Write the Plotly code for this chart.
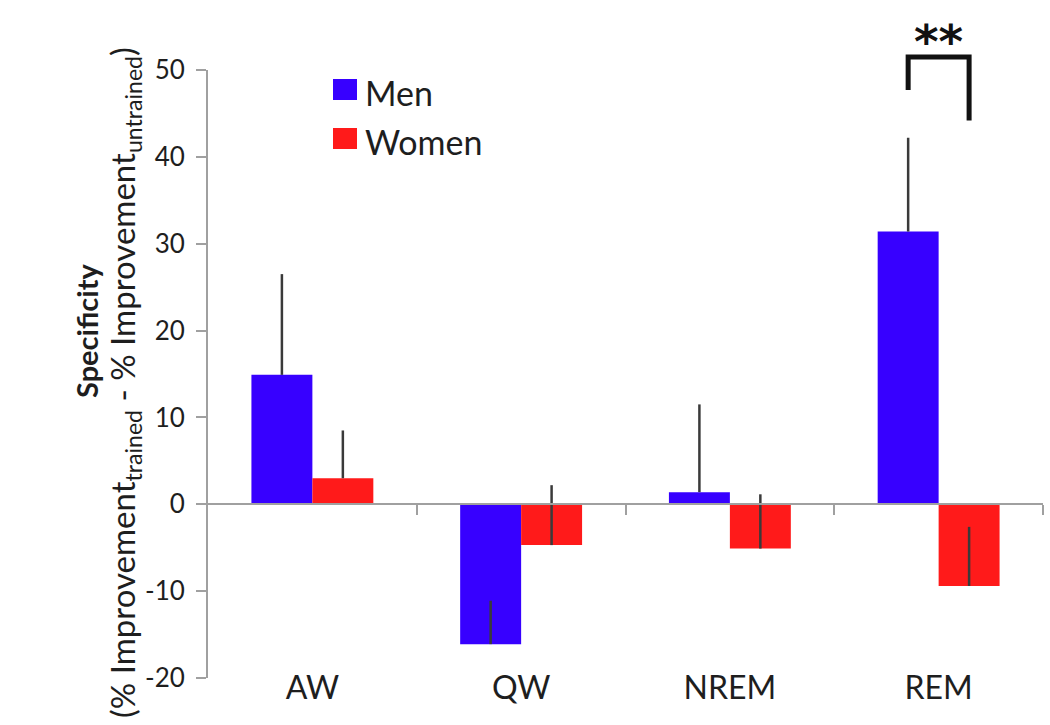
import plotly.graph_objects as go

# ---------------- data ----------------
categories = ["AW", "QW", "NREM", "REM"]
series_names = ["Men", "Women"]
men_values = [14.9, -16.1, 1.4, 31.4]
women_values = [3.0, -4.7, -5.1, -9.4]
men_err_plus = [11.6, 5.0, 10.1, 10.8]
women_err_plus = [5.5, 6.9, 6.25, 6.8]
y_ticks = [-20, -10, 0, 10, 20, 30, 40, 50]
y_tick_text = ["-20", "-10", "0", "10", "20", "30", "40", "50"]
y_range = [-20, 50]
sig_label = "**"
sig_category = "REM"
sig_bracket_y = [47.7, 51.5, 44.2]  # left end, top, right end
sig_label_y = 53.3
y_title_1 = "<b>Specificity</b>"
y_title_2 = "(% Improvement<sub>trained</sub> - % Improvement<sub>untrained</sub>)"

# ---------------- geometry / style ----------------
W, H = 1050, 725
L, R, T, B = 208, 7, 70, 47
PW, PH = W - L - R, H - T - B
MEN_COLOR = "#3700ff"
WOMEN_COLOR = "#ff1a1a"
AXIS_COLOR = "#a0a0a0"
TEXT_COLOR = "#1e1e1e"
FONT = "Lato"
BARGAP = 0.416
n = len(categories)
bar_frac = (1 - BARGAP) / 2  # width of one bar in category units


def px_x(px):
    return (px - L) / PW


def px_y(py):
    return (H - B - py) / PH


def data_y(v):
    return (v - y_range[0]) / (y_range[1] - y_range[0])


def cat_x(i, off=0.0):
    return (i + 0.5 + off) / n


fig = go.Figure()

for name, vals, err, col in [
    (series_names[0], men_values, men_err_plus, MEN_COLOR),
    (series_names[1], women_values, women_err_plus, WOMEN_COLOR),
]:
    fig.add_trace(go.Bar(
        x=categories, y=vals, name=name,
        marker=dict(color=col, line=dict(width=0)),
        error_y=dict(type="data", symmetric=False, array=err,
                     arrayminus=[0] * len(err), width=0,
                     thickness=2.5, color="#3a3a3a"),
        showlegend=False,
    ))

# dummy trace for the zero-crossing category axis (ticks at boundaries)
fig.add_trace(go.Scatter(x=[None], y=[None], xaxis="x2", yaxis="y",
                         showlegend=False, hoverinfo="skip"))

shapes = []
annotations = []

# significance bracket between Men and Women bars of REM
si = categories.index(sig_category)
xl = cat_x(si, -bar_frac / 2)
xr = cat_x(si, bar_frac / 2)
shapes.append(dict(
    type="path", xref="paper", yref="paper",
    path=(f"M {xl},{data_y(sig_bracket_y[0])} L {xl},{data_y(sig_bracket_y[1])} "
          f"L {xr},{data_y(sig_bracket_y[1])} L {xr},{data_y(sig_bracket_y[2])}"),
    line=dict(color="#111111", width=5),
))
annotations.append(dict(
    x=cat_x(si), y=data_y(sig_label_y), xref="paper", yref="paper",
    text=sig_label, showarrow=False, xanchor="center", yanchor="middle",
    font=dict(family="DejaVu Sans", size=47, color="#111111", weight="bold"),
))

# custom legend
leg = [(series_names[0], MEN_COLOR, 79, 100), (series_names[1], WOMEN_COLOR, 128, 149)]
for name, col, y0, y1 in leg:
    shapes.append(dict(type="rect", xref="paper", yref="paper",
                       x0=px_x(333), x1=px_x(357), y0=px_y(y1), y1=px_y(y0),
                       fillcolor=col, line=dict(width=0)))
    annotations.append(dict(
        x=px_x(363), y=px_y((y0 + y1) / 2 + 3), xref="paper", yref="paper",
        text=name, showarrow=False, xanchor="left", yanchor="middle",
        font=dict(family=FONT, size=34, color=TEXT_COLOR),
    ))

# y-axis titles
annotations.append(dict(
    x=px_x(86), y=px_y(331), xref="paper", yref="paper", text=y_title_1,
    textangle=-90, showarrow=False, xanchor="center", yanchor="middle",
    font=dict(family=FONT, size=29, color=TEXT_COLOR),
))
annotations.append(dict(
    x=px_x(124), y=px_y(383), xref="paper", yref="paper", text=y_title_2,
    textangle=-90, showarrow=False, xanchor="center", yanchor="middle",
    font=dict(family=FONT, size=33, color=TEXT_COLOR),
))

fig.update_layout(
    width=W, height=H,
    margin=dict(l=L, r=R, t=T, b=B, pad=0),
    paper_bgcolor="white", plot_bgcolor="white",
    barmode="group", bargap=BARGAP, bargroupgap=0,
    xaxis=dict(
        type="category", categoryorder="array", categoryarray=categories,
        range=[-0.5, n - 0.5], showline=False, ticks="", showgrid=False,
        zeroline=False, tickfont=dict(family=FONT, size=32, color=TEXT_COLOR),
        ticklabelstandoff=-12,
    ),
    xaxis2=dict(
        overlaying="x", anchor="free", position=data_y(0),
        range=[-0.5, n - 0.5], tickvals=[i + 0.5 for i in range(n)],
        ticks="outside", ticklen=10, tickwidth=2, tickcolor=AXIS_COLOR,
        showline=True, linecolor=AXIS_COLOR, linewidth=2,
        showticklabels=False, showgrid=False, zeroline=False,
    ),
    yaxis=dict(
        range=y_range, tickvals=y_ticks, ticktext=y_tick_text,
        showline=True, linecolor=AXIS_COLOR,
        linewidth=2, ticks="outside", ticklen=10, tickwidth=2,
        tickcolor=AXIS_COLOR, showgrid=False, zeroline=False,
        tickfont=dict(family=FONT, size=26, color=TEXT_COLOR),
        ticklabelstandoff=6,
    ),
    shapes=shapes, annotations=annotations,
    showlegend=False,
)

fig.write_html("out.html", config={"displayModeBar": False},
               post_script="document.body.style.margin='0';")
